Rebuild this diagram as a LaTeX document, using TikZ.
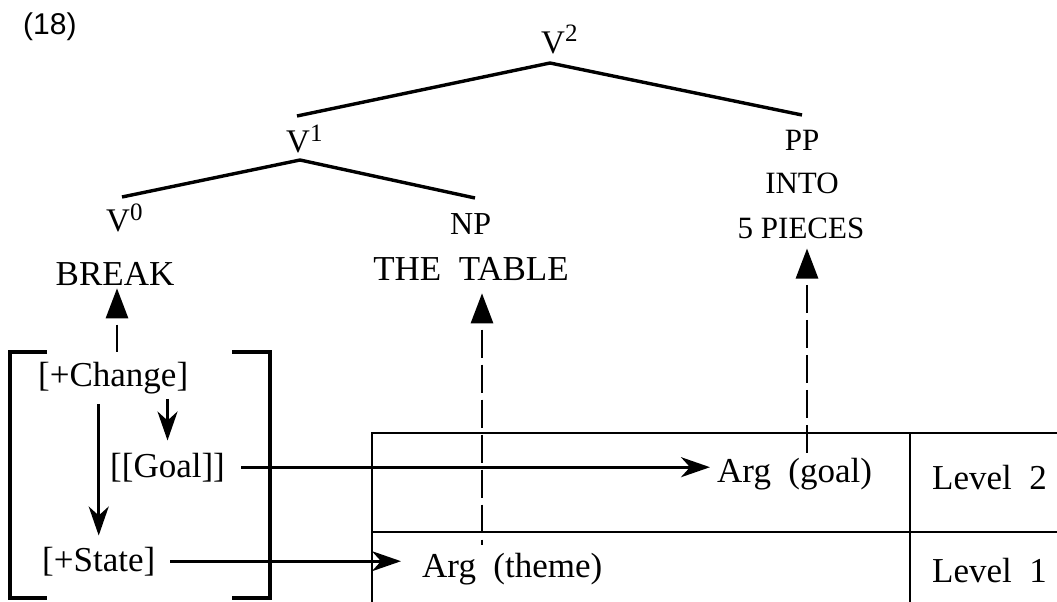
\documentclass[tikz,border=0pt]{standalone}
\usepackage{fontspec}
\setmainfont{Liberation Serif}
\newfontfamily\labsans{Liberation Sans}
\usetikzlibrary{arrows.meta}
\newcommand{\vlab}[1]{{\fontsize{33}{36}\selectfont V}\raisebox{11pt}{\fontsize{25}{25}\selectfont #1}}
\newcommand{\bigtxt}{\fontsize{35}{40}\selectfont}
\newcommand{\widesp}{\bigtxt\spaceskip 0.5em\relax}
\begin{document}
\begin{tikzpicture}[x=1pt,y=-1pt,
  txt/.style={inner sep=0pt, font=\bigtxt},
  wide/.style={inner sep=0pt, font=\widesp},
  tree/.style={inner sep=0pt, font=\fontsize{31}{36}\selectfont},
  branch/.style={line width=3.4pt},
  arr/.style={line width=2.8pt, -{Stealth[length=29pt,width=20pt,inset=9pt]}},
  dasharr/.style={line width=2.8pt, {Triangle[length=30pt,width=22pt]}-, dash pattern=on 28pt off 7pt, dash phase=28pt},
  frame/.style={line width=2.5pt},
  brk/.style={line width=3.2pt}]
\useasboundingbox (0,0) rectangle (1057,602);

% label
\node[inner sep=0pt, anchor=base west, font=\labsans\fontsize{30}{32}\selectfont] (num) at (23,35) {(18)};

% tree labels
\node[tree, anchor=base west] (v2) at (541,53) {\vlab{2}};
\node[tree, anchor=base west] (v1) at (286,152) {\vlab{1}};
\node[tree, anchor=base west] (v0) at (106,231) {\vlab{0}};
\node[tree, anchor=base west] (np) at (450,234) {\fontsize{32}{36}\selectfont NP};
\node[tree, anchor=base] (pp) at (802,150) {PP};
\node[tree, anchor=base] (into) at (802,193) {INTO};
\node[tree, anchor=base] (pieces) at (801,238) {5 PIECES};
\node[txt, anchor=base] (break) at (115,285) {BREAK};
\node[wide, anchor=base] (thetable) at (471,280) {THE TABLE};

% branches
\coordinate (b2t) at (550,63);
\coordinate (b2l) at (297,116);
\coordinate (b2r) at (802,115);
\coordinate (b1t) at (300,160);
\coordinate (b1l) at (122,197);
\coordinate (b1r) at (475,198);
\draw[branch] (b2l) -- (b2t) -- (b2r);
\draw[branch] (b1l) -- (b1t) -- (b1r);

% bracket contents
\node[txt, anchor=base west] (change) at (38,386) {[+Change]};
\node[txt, anchor=base west] (goal) at (110,477) {[[Goal]]};
\node[txt, anchor=base west] (state) at (42,571) {[+State]};

% bracket
\draw[brk] (47,352) -- (10,352) -- (10,598) -- (47,598);
\draw[brk] (232,352) -- (270,352) -- (270,598) -- (232,598);

% table
\draw[frame] (372,602) -- (372,433) -- (1057,433);
\draw[frame] (372,532) -- (1057,532);
\draw[frame] (910,433) -- (910,602);
\node[wide, anchor=base west] (arggoal) at (717,482) {Arg (goal)};
\node[wide, anchor=base west] (argtheme) at (422,577) {Arg (theme)};
\node[wide, anchor=base west] (lev2) at (932,489) {Level 2};
\node[wide, anchor=base west] (lev1) at (932,582) {Level 1};

% solid arrows
\draw[arr, shorten <=5pt, shorten >=12pt] (goal.north |- change.south) -- (goal.north);
\draw[arr, shorten <=10pt, shorten >=11pt] (state.north |- change.south) -- (state.north);
\draw[arr, shorten <=16pt, shorten >=7pt] (goal.east) -- (goal.east -| arggoal.west);
\draw[arr, shorten <=15pt, shorten >=21pt] (state.east) -- (state.east -| argtheme.west);

% dashed arrows
\coordinate (dch) at (117,352);
\coordinate (dth) at (482,545);
\coordinate (dgo) at (807,455);
\draw[dasharr, shorten <=3pt] (break.south -| dch) -- (dch);
\draw[dasharr, shorten <=13pt] (thetable.south -| dth) -- (dth);
\draw[dasharr, shorten <=10pt] (pieces.south -| dgo) -- (dgo);
\end{tikzpicture}
\end{document}
